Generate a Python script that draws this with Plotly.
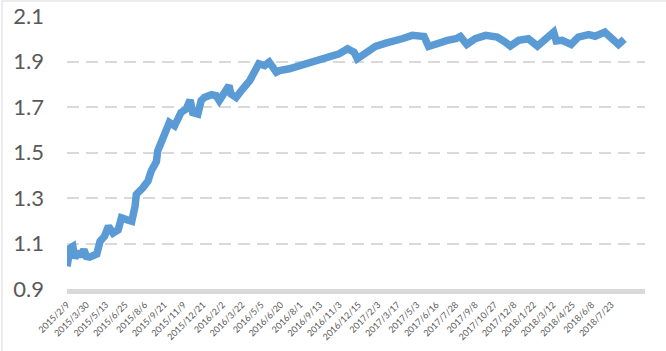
import plotly.graph_objects as go

# Tick labels on the category axis (one every 30 trading days)
tick_labels = ["2015/2/9", "2015/3/30", "2015/5/13", "2015/6/25", "2015/8/6",
               "2015/9/21", "2015/11/9", "2015/12/21", "2016/2/2", "2016/3/22",
               "2016/5/5", "2016/6/20", "2016/8/1", "2016/9/13", "2016/11/3",
               "2016/12/15", "2017/2/3", "2017/3/17", "2017/5/3", "2017/6/16",
               "2017/7/28", "2017/9/8", "2017/10/27", "2017/12/8", "2018/1/22",
               "2018/3/12", "2018/4/25", "2018/6/8", "2018/7/23"]
tick_step = 30

# Trading-day index of each sampled point and the value read at that point
day_index = [0, 5, 9, 12, 17, 21, 26, 30, 35, 46, 51, 58, 64, 71, 79, 84, 92, 100,
             105, 107, 117, 125, 130, 138, 140, 146, 153, 158, 166, 176, 184, 190,
             194, 202, 207, 212, 223, 230, 235, 243, 250, 253, 261, 271, 282, 289,
             296, 305, 312, 323, 328, 343, 358, 374, 389, 405, 420, 433, 443, 448,
             461, 476, 492, 510, 517, 533, 551, 558, 571, 587, 600, 607, 617, 630,
             646, 664, 674, 684, 697, 712, 726, 739, 751, 755, 764, 778, 789, 805,
             815, 830, 840, 851, 860]
values = [1.00, 1.08, 1.087, 1.036, 1.065, 1.043, 1.073, 1.043, 1.04, 1.054, 1.11,
          1.132, 1.176, 1.146, 1.16, 1.213, 1.205, 1.198, 1.264, 1.316, 1.345, 1.375,
          1.419, 1.46, 1.507, 1.551, 1.595, 1.632, 1.617, 1.676, 1.691, 1.731, 1.676,
          1.669, 1.728, 1.742, 1.754, 1.75, 1.728, 1.757, 1.794, 1.757, 1.742, 1.779,
          1.816, 1.853, 1.89, 1.882, 1.897, 1.853, 1.86, 1.868, 1.882, 1.897, 1.907,
          1.926, 1.934, 1.956, 1.941, 1.912, 1.934, 1.966, 1.981, 2.0, 2.0, 2.015,
          2.01, 1.966, 1.981, 1.993, 2.0, 2.01, 1.975, 2.0, 2.015, 2.007, 1.99,
          1.968, 1.993, 2.0, 1.968, 2.003, 2.029, 1.99, 1.993, 1.975, 2.007, 2.018,
          2.011, 2.029, 2.007, 1.975, 1.998]

y_ticks = [0.9, 1.1, 1.3, 1.5, 1.7, 1.9, 2.1]
x_axis_end = 892

W, H = 666, 351
ml, mr, mt, mb = 67, 21, 16, 62

fig = go.Figure()
fig.add_trace(go.Scatter(
    x=day_index, y=values, mode="lines",
    line=dict(color="#5B9BD5", width=7.5),
    hoverinfo="skip", showlegend=False, cliponaxis=False,
))

pw = W - ml - mr
ph = H - mt - mb
frame = dict(color="#D9D9D9", width=1)
fig.add_shape(type="line", xref="paper", yref="paper",
              x0=(2 - ml) / pw, x1=(W - ml) / pw,
              y0=(H - mb - 1) / ph, y1=(H - mb - 1) / ph, line=frame)
fig.add_shape(type="line", xref="paper", yref="paper",
              x0=(2 - ml) / pw, x1=(2 - ml) / pw,
              y0=(H - mb - 1) / ph, y1=-mb / ph, line=frame)

fig.update_layout(
    width=W, height=H,
    margin=dict(l=ml, r=mr, t=mt, b=mb, autoexpand=False),
    paper_bgcolor="white", plot_bgcolor="white",
    font=dict(family="Lato, 'Open Sans', sans-serif", color="#595959"),
    xaxis=dict(
        range=[0, x_axis_end],
        tickmode="array",
        tickvals=[i * tick_step for i in range(len(tick_labels))],
        ticktext=tick_labels,
        tickangle=-45,
        tickfont=dict(size=9, color="#595959"),
        showgrid=False, zeroline=False, automargin=False,
        showline=True, linecolor="#D9D9D9", linewidth=5,
        ticks="", ticklabelstandoff=2,
    ),
    yaxis=dict(
        range=[0.9, 2.1],
        tickmode="array", tickvals=y_ticks,
        ticktext=[f"{v:.1f}" for v in y_ticks],
        tickfont=dict(size=22, color="#595959"),
        showgrid=True, gridcolor="#D9D9D9", gridwidth=1.5, griddash="12px,7px",
        zeroline=False, showline=False, ticks="", ticklabelstandoff=22,
        automargin=False,
    ),
)

fig.write_html("out.html")
